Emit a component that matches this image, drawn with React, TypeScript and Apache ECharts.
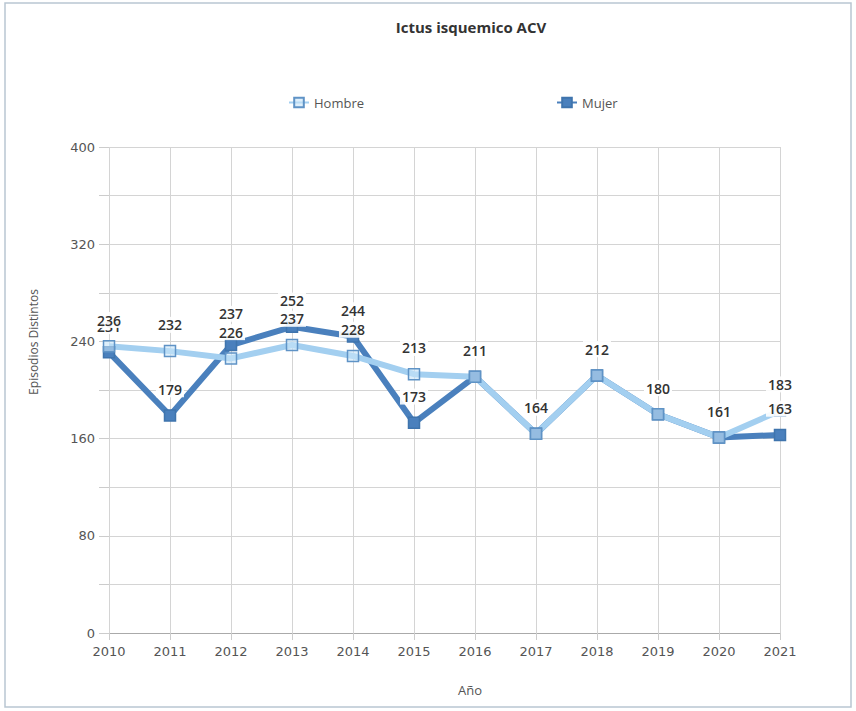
import React, { useEffect, useRef } from "react";
import * as echarts from "echarts";

const years = ["2010", "2011", "2012", "2013", "2014", "2015", "2016", "2017", "2018", "2019", "2020", "2021"];
const hombre = [236, 232, 226, 237, 228, 213, 211, 164, 212, 180, 161, 183];
const mujer = [231, 179, 237, 252, 244, 173, 211, 164, 212, 180, 161, 163];
const titleText = "Ictus isquemico ACV";
const yName = "Episodios Distintos";
const xName = "Año";

export default function App() {
  const ref = useRef<HTMLDivElement>(null);
  useEffect(() => {
    document.body.style.margin = "0";
    const chart = echarts.init(ref.current!, null, { renderer: "svg" });
    const font = "'Open Sans', 'DejaVu Sans', sans-serif";
    const labelCfg = {
      show: true,
      position: "top",
      distance: 12,
      color: "#333",
      fontSize: 14,
      fontFamily: font,
      fontWeight: 600,
      backgroundColor: "rgba(255,255,255,0.9)",
      padding: [1, 2],
    };
    const mujerData = mujer.map((v, i) => (i === 2 ? { value: v, label: { distance: 17 } } : v));
    chart.setOption({
      animation: false,
      backgroundColor: "#fff",
      textStyle: { fontFamily: font },
      title: {
        text: titleText,
        left: 466,
        top: 14,
        textAlign: "center",
        textStyle: { fontSize: 15, fontWeight: "bold", color: "#333", fontFamily: font },
      },
      legend: {
        data: ["Hombre", "Mujer"],
        left: 283,
        top: 91,
        itemGap: 192,
        itemWidth: 20,
        itemHeight: 12,
        textStyle: { fontSize: 13, color: "#555", fontFamily: font },
      },
      grid: { left: 109, right: 76, top: 147, bottom: 78 },
      xAxis: {
        type: "category",
        data: years,
        boundaryGap: false,
        axisLine: { lineStyle: { color: "#aaa" } },
        axisTick: { show: true, length: 7, lineStyle: { color: "#ccc" } },
        axisLabel: { fontSize: 13, color: "#555", margin: 12, fontFamily: "'DejaVu Sans', sans-serif" },
        splitLine: { show: true, lineStyle: { color: "#d4d4d4" } },
      },
      yAxis: {
        type: "value",
        min: 0,
        max: 400,
        interval: 80,
        axisLine: { show: false },
        axisTick: { show: true, length: 10, lineStyle: { color: "#ccc" } },
        minorTick: { show: true, splitNumber: 2, length: 10, lineStyle: { color: "#ccc" } },
        minorSplitLine: { show: true, lineStyle: { color: "#d4d4d4" } },
        axisLabel: { fontSize: 13, color: "#555", margin: 14, fontFamily: "'DejaVu Sans', sans-serif" },
        splitLine: { show: true, lineStyle: { color: "#d4d4d4" } },
      },
      graphic: [
        {
          type: "rect",
          shape: { x: 5, y: 3, width: 846, height: 704 },
          style: { fill: "none", stroke: "#b9c6d2", lineWidth: 1.5 },
          silent: true,
        },
        {
          type: "text",
          x: 33,
          y: 342,
          rotation: Math.PI / 2,
          style: { text: yName, fill: "#555", fontSize: 12, fontFamily: font, align: "center", verticalAlign: "middle" },
        },
        {
          type: "text",
          x: 470,
          y: 690,
          style: { text: xName, fill: "#555", fontSize: 13, fontFamily: font, align: "center", verticalAlign: "middle" },
        },
      ],
      series: [
        {
          name: "Mujer",
          type: "line",
          data: mujerData,
          z: 2,
          symbol: "rect",
          symbolSize: 11,
          lineStyle: { color: "#4a80bd", width: 6 },
          itemStyle: { color: "#4a80bd", borderColor: "#3f74ad", borderWidth: 1.5 },
          label: labelCfg,
        },
        {
          name: "Hombre",
          type: "line",
          data: hombre,
          z: 2,
          symbol: "rect",
          symbolSize: 11,
          lineStyle: { color: "#a3cff0", width: 6 },
          itemStyle: { color: "rgba(200,228,248,0.6)", borderColor: "#5f93c6", borderWidth: 1.5 },
          label: labelCfg,
        },
      ],
    });
    return () => chart.dispose();
  }, []);
  return <div ref={ref} style={{ width: 856, height: 711 }} />;
}
